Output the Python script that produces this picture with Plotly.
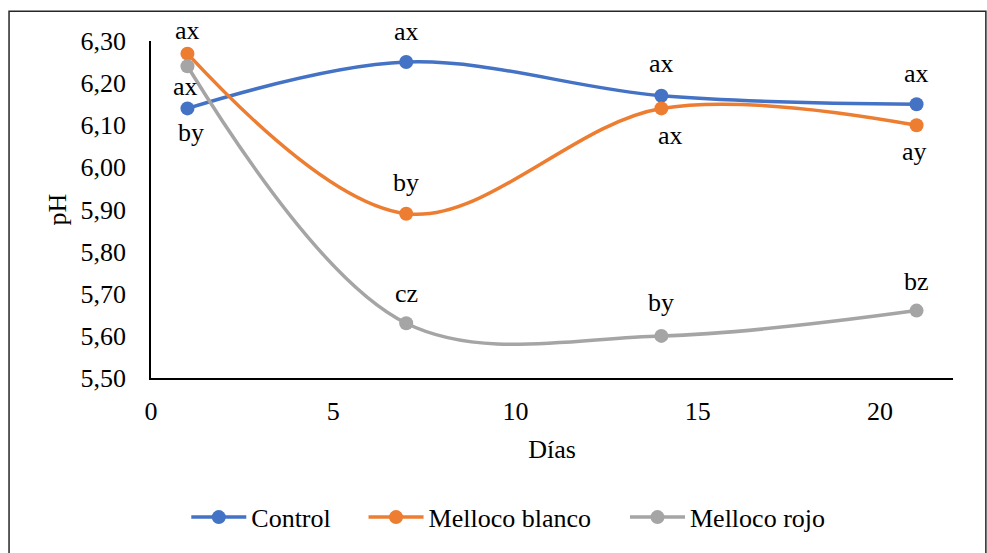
import plotly.graph_objects as go

# Storage time (days) and measured pH per treatment
dias = [1, 7, 14, 21]
control = [6.14, 6.25, 6.17, 6.15]
melloco_blanco = [6.27, 5.89, 6.14, 6.10]
melloco_rojo = [6.24, 5.63, 5.60, 5.66]

# Significance letters for each point
letras_control = ["by", "ax", "ax", "ax"]
letras_blanco = ["ax", "by", "ax", "ay"]
letras_rojo = ["ax", "cz", "by", "bz"]

series = [
    ("Control", control, letras_control, "#4472C4"),
    ("Melloco blanco", melloco_blanco, letras_blanco, "#ED7D31"),
    ("Melloco rojo", melloco_rojo, letras_rojo, "#A5A5A5"),
]

# Vertical / horizontal offsets (px) of each letter relative to its marker
desplazamientos = {
    "Control": [(-24, 4), (31, 0), (32, 0), (31, 0)],
    "Melloco blanco": [(23, 0), (31, 0), (-27, 9), (-26, -2)],
    "Melloco rojo": [(-20, -2), (30, 0), (33, 0), (29, 0)],
}

FONT = "Times New Roman, Liberation Serif, serif"
FS = 26

# One legend per series so each entry sits at its own spot under the chart
legend_ids = ["legend", "legend2", "legend3"]
legend_x = [0.044, 0.265, 0.591]

fig = go.Figure()
annotations = []
for (nombre, valores, letras, color), lid in zip(series, legend_ids):
    fig.add_trace(go.Scatter(
        x=dias, y=valores, name=nombre, legend=lid,
        mode="lines+markers",
        line=dict(color=color, width=3.5, shape="spline", smoothing=1.0),
        marker=dict(color=color, size=14),
    ))
    for xi, yi, txt, (dy, dx) in zip(dias, valores, letras, desplazamientos[nombre]):
        annotations.append(dict(
            x=xi, y=yi, xref="x", yref="y", text=txt, showarrow=False,
            yshift=dy, xshift=dx, font=dict(family=FONT, size=FS, color="black"),
        ))

# Outer chart frame
shapes = [dict(
    type="rect", xref="paper", yref="paper",
    x0=-0.177, x1=1.041, y0=-0.65, y1=1.0885,
    line=dict(color="#262626", width=1.5), fillcolor="rgba(0,0,0,0)", layer="below",
)]

legend_style = dict(
    orientation="h", xanchor="left", y=-0.413, yanchor="middle",
    font=dict(family=FONT, size=FS, color="black"), itemwidth=55,
    bgcolor="rgba(0,0,0,0)",
)

fig.update_layout(
    width=987, height=553,
    margin=dict(l=151, r=34, t=41, b=173),
    paper_bgcolor="white", plot_bgcolor="white",
    separators=",.",
    font=dict(family=FONT, size=FS, color="black"),
    showlegend=True,
    legend=dict(x=legend_x[0], **legend_style),
    legend2=dict(x=legend_x[1], **legend_style),
    legend3=dict(x=legend_x[2], **legend_style),
    annotations=annotations,
    shapes=shapes,
    xaxis=dict(
        range=[0, 22], tickmode="linear", tick0=0, dtick=5,
        showgrid=False, zeroline=False, showline=True, linecolor="black", linewidth=1.5,
        ticks="outside", ticklen=9, tickcolor="rgba(0,0,0,0)",
        title=dict(text="Días", font=dict(family=FONT, size=FS), standoff=15),
    ),
    yaxis=dict(
        range=[5.5, 6.3], tickmode="linear", tick0=5.5, dtick=0.1, tickformat=".2f",
        showgrid=False, zeroline=False, showline=True, linecolor="black", linewidth=1.5,
        ticks="outside", ticklen=18, tickcolor="rgba(0,0,0,0)",
        title=dict(text="pH", font=dict(family=FONT, size=FS), standoff=6),
    ),
)

fig.write_html("out.html")
